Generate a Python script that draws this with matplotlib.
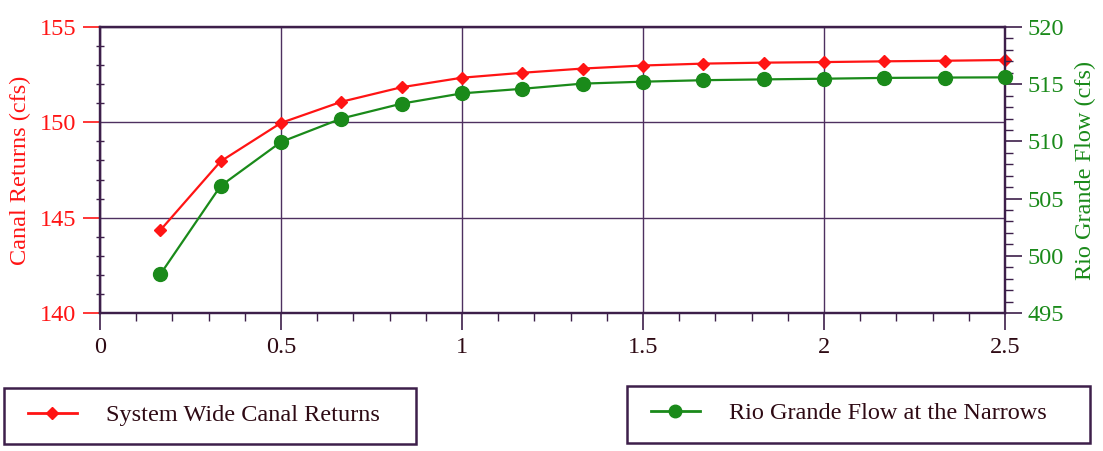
import matplotlib
matplotlib.use('Agg')
import matplotlib.pyplot as plt
from matplotlib.lines import Line2D
from matplotlib.patches import Rectangle
from matplotlib.ticker import MultipleLocator

# ---- data ----
hours = [0.167, 0.333, 0.5, 0.667, 0.833, 1.0, 1.167, 1.333, 1.5, 1.667, 1.833, 2.0, 2.167, 2.333, 2.5]
canal_returns = [144.35, 147.95, 149.97, 151.08, 151.84, 152.34, 152.6, 152.82, 152.98, 153.08,
                 153.13, 153.16, 153.2, 153.23, 153.27]
rio_flow = [498.4, 506.1, 509.95, 512.0, 513.3, 514.2, 514.6, 515.05, 515.22, 515.35,
            515.42, 515.48, 515.55, 515.58, 515.6]
x_ticks = [0, 0.5, 1, 1.5, 2, 2.5]
x_ticklabels = ['0', '0.5', '1', '1.5', '2', '2.5']
left_ticks = [140, 145, 150, 155]
right_ticks = [495, 500, 505, 510, 515, 520]
series_names = ['System Wide Canal Returns', 'Rio Grande Flow at the Narrows']
left_label = 'Canal Returns (cfs)'
right_label = 'Rio Grande Flow (cfs)'

# ---- style ----
RED = '#ff1414'
GREEN = '#1a8a1a'
AXC = '#3d1f4a'
GRIDC = '#4e3060'
TXT = '#2e0a14'
FONT = 'Liberation Serif'
plt.rcParams['font.family'] = [FONT, 'DejaVu Serif']
FS = 17.5

W, H = 1103, 451
fig = plt.figure(figsize=(W / 100, H / 100), dpi=100)
ax = fig.add_axes([100 / W, 1 - 313 / H, (1005 - 100) / W, (313 - 27) / H])
ax2 = ax.twinx()

ax.set_xlim(0, 2.5)
ax.set_ylim(140, 155)
ax2.set_ylim(495, 520)

ax.plot(hours, canal_returns, color=RED, lw=1.6, marker='D', ms=6.5, mec=RED, mfc=RED,
        clip_on=False, zorder=3)
ax2.plot(hours, rio_flow, color=GREEN, lw=1.6, marker='o', ms=10, mec=GREEN, mfc=GREEN,
         clip_on=False, zorder=3)

for a in (ax, ax2):
    for s in a.spines.values():
        s.set_color(AXC)
        s.set_linewidth(1.6)

ax.set_xticks(x_ticks)
ax.set_xticklabels(x_ticklabels)
ax.xaxis.set_minor_locator(MultipleLocator(0.1))
ax.set_yticks(left_ticks)
ax.yaxis.set_minor_locator(MultipleLocator(1))
ax2.set_yticks(right_ticks)
ax2.yaxis.set_minor_locator(MultipleLocator(1))

ax.grid(True, which='major', color=GRIDC, lw=1.0)
ax.set_axisbelow(True)

ax.tick_params(axis='x', which='major', direction='out', length=12, width=1.2, color=AXC,
               labelsize=FS, labelcolor=TXT, pad=5)
ax.tick_params(axis='x', which='minor', direction='out', length=6, width=1.0, color=AXC)
ax.tick_params(axis='y', which='major', direction='out', length=12, width=1.2, color=RED,
               labelsize=FS, labelcolor=RED, pad=5)
ax.tick_params(axis='y', which='minor', direction='inout', length=6, width=1.0, color=AXC)
ax2.tick_params(axis='y', which='major', direction='out', length=12, width=1.2, color=AXC,
                labelsize=FS, labelcolor=GREEN, pad=4)
ax2.tick_params(axis='y', which='minor', direction='out', length=6, width=1.0, color=AXC)

ax.set_ylabel(left_label, color=RED, fontsize=FS, labelpad=6)
ax2.set_ylabel(right_label, color=GREEN, fontsize=FS, labelpad=8)

# ---- legends (two framed boxes below) ----
def box(x0, y0, x1, y1):
    fig.patches.append(Rectangle((x0 / W, 1 - y1 / H), (x1 - x0) / W, (y1 - y0) / H,
                                 transform=fig.transFigure, fill=False, edgecolor=AXC,
                                 lw=1.8))

box(4, 388, 416, 444)
box(627, 386, 1090, 443)

h1 = Line2D([], [], color=RED, lw=2, marker='D', ms=6.5)
h2 = Line2D([], [], color=GREEN, lw=2, marker='o', ms=9)
for h, name, xs, yc in [(h1, series_names[0], 28, 415), (h2, series_names[1], 651, 413)]:
    leg = fig.legend([h], [name], loc='center left', bbox_to_anchor=(xs / W, 1 - yc / H),
                     frameon=False, borderpad=0, borderaxespad=0, fontsize=FS,
                     handlelength=2.0, handletextpad=1.2, labelcolor=TXT)

fig.savefig('out.png', dpi=100)
